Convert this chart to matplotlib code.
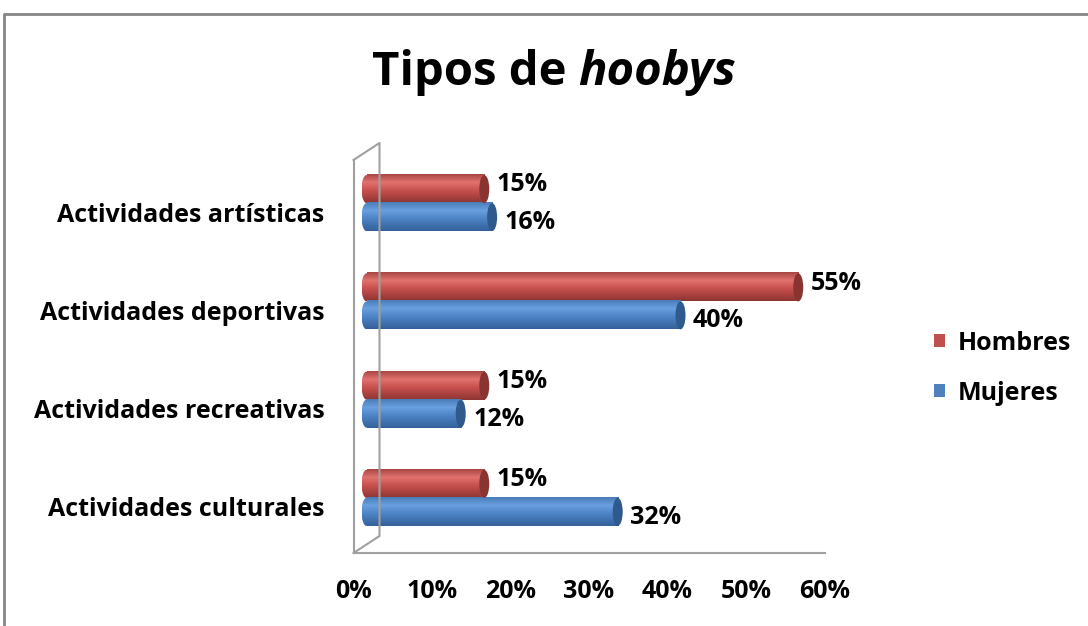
import numpy as np
import matplotlib
matplotlib.use("Agg")
import matplotlib.pyplot as plt
from matplotlib.colors import LinearSegmentedColormap
from matplotlib.patches import Ellipse, Patch
from matplotlib.lines import Line2D
from matplotlib.transforms import ScaledTranslation, IdentityTransform

plt.rcParams['font.family'] = ['Open Sans', 'DejaVu Sans']
plt.rcParams['font.weight'] = 'bold'

# data (bottom to top)
categories = ['Actividades culturales', 'Actividades recreativas',
              'Actividades deportivas', 'Actividades artísticas']
hombres = [15, 15, 55, 15]
mujeres = [32, 12, 40, 16]
x_ticks = [0, 10, 20, 30, 40, 50, 60]
x_ticklabels = ['0%', '10%', '20%', '30%', '40%', '50%', '60%']

FS = 18
W, H = 1088, 626
fig = plt.figure(figsize=(W / 100, H / 100), dpi=100)
ax = fig.add_axes([353.5 / W, 1 - 553 / H, (824.5 - 353.5) / W, (553 - 160) / H])
ax.set_xlim(0, 60)
ax.set_ylim(-0.5, 3.5)

# 3d-ish offsets (pixels -> inches)
bar_off = ScaledTranslation(13 / 100, 6 / 100, fig.dpi_scale_trans)
wall_off = ScaledTranslation(26 / 100, 17 / 100, fig.dpi_scale_trans)
bar_tr = ax.transData + bar_off


def cyl_cmap(dark, light, base, bottom):
    return LinearSegmentedColormap.from_list(
        'c', [(0.0, bottom), (0.45, base), (0.72, light), (1.0, dark)])


red = dict(cmap=cyl_cmap('#a84744', '#e2726e', '#c9524f', '#8e3532'),
           cap='#8a3432')
blue = dict(cmap=cyl_cmap('#4a7cb8', '#6aa0e0', '#4f86c8', '#34619b'),
            cap='#2f5a8e')

bh = 0.285
cap_w = 10 / 7.85
grad = np.linspace(0, 1, 64).reshape(-1, 1)
y = np.arange(len(categories))


def cylinder(v, yc, style):
    y0 = yc - bh / 2
    # rounded left end, shaded like the body
    left = Ellipse((0, yc), cap_w, bh, transform=bar_tr)
    im = ax.imshow(grad, cmap=style['cmap'], origin='lower', aspect='auto',
                   extent=[-cap_w / 2, 0.01, y0, y0 + bh], transform=bar_tr,
                   zorder=3, interpolation='bilinear')
    im.set_clip_path(left)
    ax.imshow(grad, cmap=style['cmap'], origin='lower', aspect='auto',
              extent=[0, v, y0, y0 + bh], transform=bar_tr, zorder=3,
              interpolation='bilinear')
    ax.add_patch(Ellipse((v, yc), cap_w, bh, transform=bar_tr,
                         facecolor=style['cap'], edgecolor='none', zorder=4))


for i in y:
    cylinder(hombres[i], i + bh / 2, red)
    cylinder(mujeres[i], i - bh / 2, blue)
    ax.annotate(f'{hombres[i]}%', xy=(hombres[i], i + bh / 2), xycoords=bar_tr,
                xytext=(9, 3), textcoords='offset points', ha='left', va='center',
                fontsize=FS, fontweight='bold')
    ax.annotate(f'{mujeres[i]}%', xy=(mujeres[i], i - bh / 2), xycoords=bar_tr,
                xytext=(9, -4), textcoords='offset points', ha='left', va='center',
                fontsize=FS, fontweight='bold')

ax.set_xlim(0, 60)
ax.set_ylim(-0.5, 3.5)

# axes styling
for s in ['top', 'right']:
    ax.spines[s].set_visible(False)
for s in ['left', 'bottom']:
    ax.spines[s].set_color('#a0a0a0')
    ax.spines[s].set_linewidth(1.5)
ax.set_xticks(x_ticks)
ax.set_xticklabels(x_ticklabels, fontsize=FS, fontweight='bold')
ax.set_yticks(y)
ax.set_yticklabels(categories, fontsize=FS, fontweight='bold')
ax.tick_params(axis='x', length=0, pad=19)
ax.tick_params(axis='y', length=0, pad=21)
lab_off = ScaledTranslation(0, -3 / 100, fig.dpi_scale_trans)
for lbl in ax.get_yticklabels():
    lbl.set_transform(lbl.get_transform() + lab_off)

# side wall
front = ax.transAxes
back = ax.transAxes + wall_off
pts = [front.transform((0, 1)), back.transform((0, 1)),
       back.transform((0, 0)), front.transform((0, 0))]
xs, ys = zip(*pts)
fig.add_artist(Line2D(xs, ys, transform=IdentityTransform(), color='#a0a0a0', lw=1.5))

# outer chart border
fig.add_artist(Line2D([4 / W, 4 / W, 1], [0, 1 - 14 / H, 1 - 14 / H],
                      transform=fig.transFigure, color='#858585', lw=2))

# title with italic part
t1 = fig.text(0, 1 - 85 / H, 'Tipos de ', fontsize=34, fontweight='bold', va='baseline')
t2 = fig.text(0, 1 - 85 / H, 'hoobys', fontsize=34, fontweight='bold',
              style='italic', va='baseline')
fig.canvas.draw()
r = fig.canvas.get_renderer()
w1 = t1.get_window_extent(r).width
w2 = t2.get_window_extent(r).width
x0 = 554 - (w1 + w2) / 2
t1.set_x(x0 / W)
t2.set_x((x0 + w1) / W)

# legend
handles = [Patch(facecolor='#c0504d'), Patch(facecolor='#4f81bd')]
fig.legend(handles, ['Hombres', 'Mujeres'], loc='center left',
           bbox_to_anchor=(911 / W, 1 - 368 / H), frameon=False,
           prop=dict(size=FS, weight='bold'), handlelength=0.45,
           handleheight=0.45, handletextpad=0.5, labelspacing=1.0)

fig.savefig('out.png', dpi=100)
